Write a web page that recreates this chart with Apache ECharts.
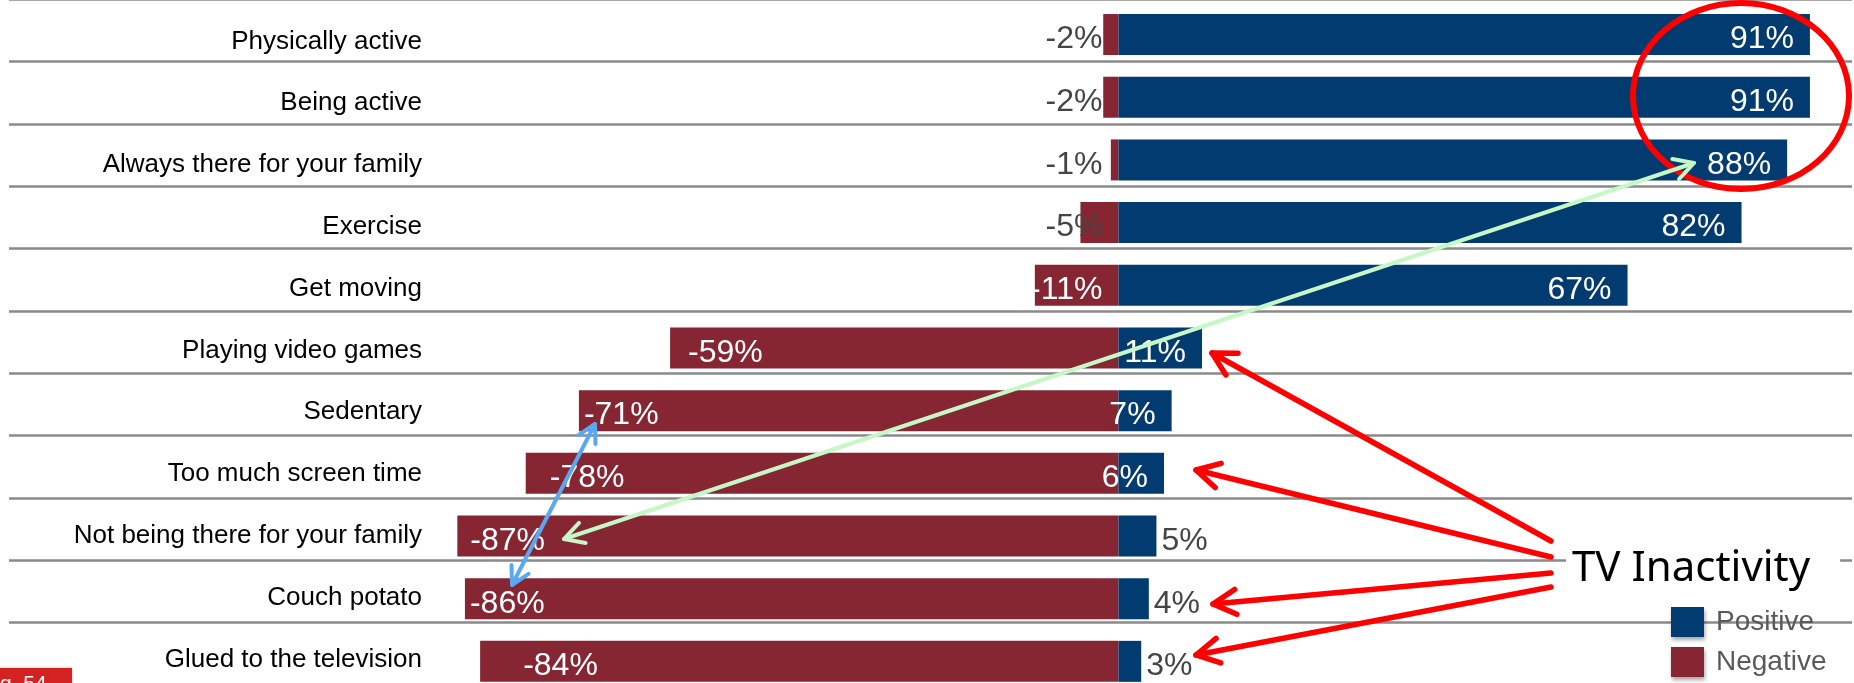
<!DOCTYPE html>
<html>
<head>
<meta charset="utf-8">
<script src="https://cdn.jsdelivr.net/npm/echarts@6/dist/echarts.min.js"></script>
<style>
  html, body { margin: 0; padding: 0; background: #ffffff; overflow: hidden; }
  #chart { width: 1854px; height: 720px; }
</style>
</head>
<body>
<div id="chart"></div>
<script>
// Words associated with TV inactivity: share of positive vs negative associations
const categories = [
  'Physically active',
  'Being active',
  'Always there for your family',
  'Exercise',
  'Get moving',
  'Playing video games',
  'Sedentary',
  'Too much screen time',
  'Not being there for your family',
  'Couch potato',
  'Glued to the television'
];
const positive = [91, 91, 88, 82, 67, 11, 7, 6, 5, 4, 3];
const negative = [-2, -2, -1, -5, -11, -59, -71, -78, -87, -86, -84];

// inset of the value label inside the long negative bars
const negLabelInset = [16, 16, 16, 16, 16, 18, 5, 24, 13, 5, 43];

const BLUE = '#023b6f';
const MAROON = '#862633';
const GREY_TEXT = '#454545';
const FONT = '"Liberation Sans", Arial, sans-serif';
const VALUE_FONT_SIZE = 32;

const chart = echarts.init(document.getElementById('chart'), null, { renderer: 'canvas' });

const X_MIN = -146, X_MAX = 96.8;

const posData = positive.map(function (v) {
  const inside = v > 5;
  return {
    value: v,
    label: inside
      ? { position: 'insideRight', distance: 16, color: '#ffffff' }
      : { position: 'right', distance: 5, color: GREY_TEXT }
  };
});

const negData = negative.map(function (v, i) {
  const small = Math.abs(v) <= 11;
  return {
    value: v,
    label: small
      ? { position: 'insideRight', distance: 16, color: Math.abs(v) >= 11 ? '#ffffff' : GREY_TEXT }
      : { position: 'insideLeft', distance: negLabelInset[i], color: '#ffffff' }
  };
});

// helper building an open-headed arrow as graphic elements
function arrow(a, b, color, width, head, both) {
  const els = [{
    type: 'line', z: 100,
    shape: { x1: a[0], y1: a[1], x2: b[0], y2: b[1] },
    style: { stroke: color, lineWidth: width, lineCap: 'round' }
  }];
  const ends = both ? [[b, a], [a, b]] : [[b, a]];
  ends.forEach(function (pair) {
    const tip = pair[0], from = pair[1];
    const ang = Math.atan2(from[1] - tip[1], from[0] - tip[0]);
    const w1 = [tip[0] + head * Math.cos(ang + 0.5), tip[1] + head * Math.sin(ang + 0.5)];
    const w2 = [tip[0] + head * Math.cos(ang - 0.5), tip[1] + head * Math.sin(ang - 0.5)];
    els.push({
      type: 'polyline', z: 100,
      shape: { points: [w1, tip, w2] },
      style: { stroke: color, lineWidth: width, fill: null, lineCap: 'round', lineJoin: 'round' }
    });
  });
  return els;
}

const annotations = [].concat(
  // highlight ring around the top scores
  [{
    type: 'ellipse', z: 100,
    shape: { cx: 1741, cy: 96, rx: 108, ry: 93 },
    style: { stroke: '#ff0000', lineWidth: 6, fill: null }
  }],
  arrow([1694, 163], [564, 539], '#c6f7c6', 4, 22, true),
  arrow([595, 424], [512, 585], '#5aa8f2', 4, 20, true),
  arrow([1551, 541], [1212, 353], '#ff0000', 5.5, 26, false),
  arrow([1551, 557], [1196, 470], '#ff0000', 5.5, 26, false),
  arrow([1551, 573], [1213, 604], '#ff0000', 5.5, 26, false),
  arrow([1551, 587], [1196, 655], '#ff0000', 5.5, 26, false),
  [{
    type: 'text', z: 101,
    style: {
      text: 'TV Inactivity',
      x: 1566, y: 569,
      font: '42px "Noto Sans", sans-serif',
      fill: '#000000',
      verticalAlign: 'middle',
      backgroundColor: '#ffffff',
      padding: [6, 30, 6, 6]
    }
  },
  {
    type: 'rect', z: 101,
    shape: { x: -2, y: 668, width: 74, height: 20 },
    style: { fill: '#d42222', shadowBlur: 3, shadowColor: 'rgba(0,0,0,0.25)' }
  },
  {
    type: 'text', z: 102,
    style: {
      text: 'g  54', x: 0, y: 674,
      font: '21px ' + FONT, fill: '#ffffff', verticalAlign: 'top'
    }
  }]
);

chart.setOption({
  animation: false,
  backgroundColor: '#ffffff',
  grid: [
    // bars
    { left: 9, width: 1845, top: 3.2, height: 689.5, outerBoundsMode: 'none' },
    // row separators
    { left: 9, width: 1843, top: -0.64, height: 685.7, outerBoundsMode: 'none' },
    // category names
    { left: 9, width: 1843, top: 10.5, height: 679.8, outerBoundsMode: 'none' }
  ],
  xAxis: [
    { gridIndex: 0, type: 'value', min: X_MIN, max: X_MAX, show: false },
    { gridIndex: 1, type: 'value', min: X_MIN, max: X_MAX, show: false },
    { gridIndex: 2, type: 'value', min: X_MIN, max: X_MAX, show: false }
  ],
  yAxis: [
    { gridIndex: 0, type: 'category', data: categories, inverse: true, show: false },
    {
      gridIndex: 1, type: 'category', data: categories, inverse: true,
      axisLine: { show: false },
      axisTick: { show: false, interval: 0 },
      axisLabel: { show: false },
      splitLine: { show: true, interval: 0, lineStyle: { color: '#8a8a8a', width: 2.5 } }
    },
    {
      gridIndex: 2, type: 'category', data: categories, inverse: true,
      axisLine: { show: false },
      axisTick: { show: false },
      splitLine: { show: false },
      axisLabel: {
        inside: true, align: 'right', margin: 413, interval: 0,
        fontFamily: FONT, fontSize: 26, color: '#000000'
      }
    }
  ],
  legend: {
    orient: 'vertical',
    left: 1671, top: 607,
    padding: 0,
    icon: 'rect',
    itemWidth: 33, itemHeight: 30, itemGap: 10,
    data: ['Positive', 'Negative'],
    selectedMode: false,
    itemStyle: { shadowBlur: 4, shadowColor: 'rgba(0,0,0,0.35)', shadowOffsetX: 1, shadowOffsetY: 3 },
    textStyle: { fontFamily: FONT, fontSize: 28, color: '#595959', lineHeight: 20, padding: [0, 0, 10, 7] }
  },
  series: [
    {
      name: 'Negative', type: 'bar', xAxisIndex: 0, yAxisIndex: 0,
      data: negData, barWidth: 41, barGap: '-100%',
      itemStyle: { color: MAROON },
      label: { show: true, formatter: '{c}%', fontFamily: FONT, fontSize: VALUE_FONT_SIZE, offset: [0, 5] },
      emphasis: { disabled: true }
    },
    {
      name: 'Positive', type: 'bar', xAxisIndex: 0, yAxisIndex: 0,
      data: posData, barWidth: 41, barGap: '-100%',
      itemStyle: { color: BLUE },
      label: { show: true, formatter: '{c}%', fontFamily: FONT, fontSize: VALUE_FONT_SIZE, offset: [0, 5] },
      emphasis: { disabled: true }
    }
  ],
  graphic: annotations
});
</script>
</body>
</html>
